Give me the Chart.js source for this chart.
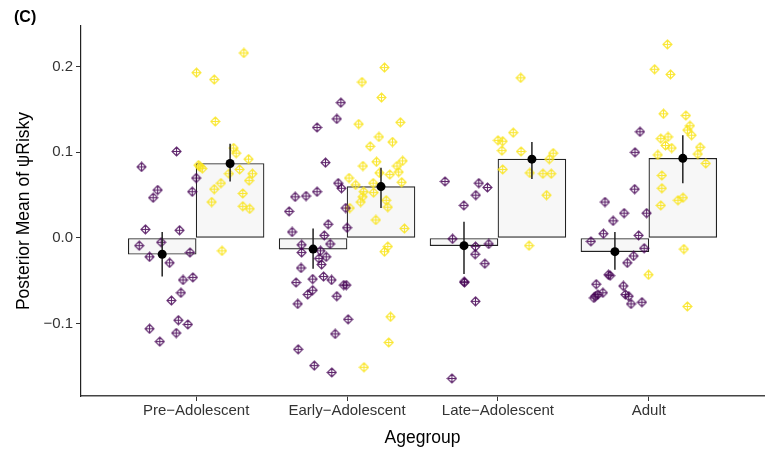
<!DOCTYPE html>
<html>
<head>
<meta charset="utf-8">
<script src="https://cdn.jsdelivr.net/npm/chart.js@4/dist/chart.umd.min.js"></script>
<style>
  body { margin: 0; background: #fff; }
  #wrap { width: 769px; height: 451px; }
</style>
</head>
<body>
<div id="wrap"><canvas id="myChart" width="769" height="451"></canvas></div>
<script>
// age groups on the x axis (positions 1..4)
const ageGroups = ["Pre−Adolescent", "Early−Adolescent", "Late−Adolescent", "Adult"];

// posterior means and intervals, purple condition (A) and yellow condition (B)
const meanA = [-0.019, -0.013, -0.009, -0.016];
const lowA = [-0.045, -0.036, -0.042, -0.037];
const highA = [0.007, 0.011, 0.019, 0.007];
const meanB = [0.087, 0.060, 0.092, 0.093];
const lowB = [0.066, 0.035, 0.069, 0.064];
const highB = [0.110, 0.082, 0.112, 0.120];

// individual estimates [x (jittered group position), y]
const pointsA = [
  // Pre-Adolescent
  [0.870, 0.101], [0.638, 0.083], [1.000, 0.070], [0.745, 0.056], [0.715, 0.047],
  [0.974, 0.054], [0.664, 0.010], [0.890, 0.009], [0.623, -0.009], [0.768, -0.005],
  [0.691, -0.022], [0.959, -0.017], [0.824, -0.029], [0.913, -0.049], [0.978, -0.046],
  [0.899, -0.064], [0.836, -0.073], [0.882, -0.096], [0.945, -0.101], [0.691, -0.106],
  [0.868, -0.111], [0.759, -0.121],
  // Early-Adolescent
  [1.959, 0.158], [1.932, 0.139], [1.801, 0.129], [1.857, 0.088], [1.941, 0.064],
  [1.963, 0.058], [1.801, 0.054], [1.656, 0.048], [1.728, 0.049], [1.616, 0.031],
  [1.991, 0.035], [1.875, 0.016], [2.000, 0.012], [1.636, 0.007], [1.849, 0.003],
  [1.699, -0.008], [1.888, -0.007], [1.699, -0.017], [1.824, -0.015], [1.814, -0.024],
  [1.862, -0.022], [1.831, -0.031], [1.695, -0.035], [1.772, -0.048], [1.844, -0.045],
  [1.897, -0.049], [1.662, -0.052], [1.978, -0.055], [1.995, -0.055], [1.772, -0.061],
  [1.739, -0.066], [1.932, -0.068], [1.673, -0.077], [2.007, -0.095], [1.921, -0.112],
  [1.676, -0.130], [1.783, -0.149], [1.899, -0.157],
  // Late-Adolescent
  [2.649, 0.066], [2.873, 0.064], [2.930, 0.059], [2.853, 0.050], [2.774, 0.038],
  [2.699, -0.001], [2.851, -0.010], [2.939, -0.007], [2.849, -0.019], [2.913, -0.030],
  [2.776, -0.051], [2.778, -0.052], [2.851, -0.074], [2.695, -0.164],
  // Adult
  [3.941, 0.124], [3.908, 0.100], [3.906, 0.057], [3.709, 0.042], [3.836, 0.029],
  [3.985, 0.029], [3.763, 0.020], [3.699, 0.005], [3.932, 0.003], [3.616, -0.004],
  [3.969, -0.012], [3.899, -0.021], [3.857, -0.029], [3.732, -0.043], [3.743, -0.044],
  [3.651, -0.054], [3.831, -0.056], [3.695, -0.064], [3.662, -0.066], [3.636, -0.070],
  [3.645, -0.068], [3.844, -0.066], [3.866, -0.068], [3.954, -0.075], [3.882, -0.077],
];

const pointsB = [
  // Pre-Adolescent
  [1.316, 0.216], [1.002, 0.193], [1.120, 0.185], [1.127, 0.136], [1.248, 0.105],
  [1.265, 0.099], [1.347, 0.092], [1.015, 0.085], [1.041, 0.081], [1.026, 0.083],
  [1.217, 0.075], [1.288, 0.080], [1.373, 0.075], [1.351, 0.067], [1.164, 0.064],
  [1.120, 0.057], [1.309, 0.052], [1.103, 0.042], [1.309, 0.037], [1.355, 0.034],
  [1.171, -0.015],
  // Early-Adolescent
  [2.248, 0.199], [2.099, 0.182], [2.228, 0.164], [2.077, 0.133], [2.353, 0.135],
  [2.211, 0.118], [2.301, 0.112], [2.153, 0.107], [2.195, 0.089], [2.105, 0.084],
  [2.368, 0.090], [2.331, 0.084], [2.342, 0.077], [2.283, 0.074], [2.215, 0.076],
  [2.013, 0.070], [2.173, 0.064], [2.362, 0.065], [2.057, 0.062], [2.110, 0.054],
  [2.176, 0.053], [2.103, 0.048], [2.090, 0.042], [2.259, 0.044], [2.270, 0.036],
  [2.018, 0.035], [2.191, 0.021], [2.380, 0.011], [2.270, -0.010], [2.248, -0.016],
  [2.288, -0.092], [2.276, -0.122], [2.112, -0.151],
  // Late-Adolescent
  [3.151, 0.187], [3.101, 0.123], [3.000, 0.114], [3.031, 0.113], [3.026, 0.102],
  [3.153, 0.101], [3.366, 0.099], [3.340, 0.092], [3.031, 0.080], [3.211, 0.076],
  [3.298, 0.075], [3.353, 0.075], [3.322, 0.050], [3.206, -0.009],
  // Adult
  [4.123, 0.226], [4.038, 0.197], [4.143, 0.191], [4.097, 0.145], [4.245, 0.143],
  [4.272, 0.131], [4.255, 0.126], [4.283, 0.120], [4.079, 0.116], [4.127, 0.118],
  [4.110, 0.108], [4.151, 0.105], [4.340, 0.106], [4.059, 0.097], [4.324, 0.098],
  [4.377, 0.087], [4.086, 0.073], [4.086, 0.058], [4.193, 0.044], [4.226, 0.047],
  [4.079, 0.038], [4.232, -0.013], [3.998, -0.043], [4.255, -0.080],
];

const colorA = "rgba(68, 1, 84, 0.85)";
const colorB = "rgba(250, 228, 30, 0.9)";
const dodge = 0.225; // half of the dodge width

// diamond with a plus inside
const makeMarker = color => {
  const c = document.createElement("canvas");
  c.width = 11;
  c.height = 11;
  const g = c.getContext("2d");
  g.strokeStyle = color;
  g.lineWidth = 1.1;
  g.beginPath();
  g.moveTo(5.5, 1);
  g.lineTo(10, 5.5);
  g.lineTo(5.5, 10);
  g.lineTo(1, 5.5);
  g.closePath();
  g.moveTo(5.5, 1);
  g.lineTo(5.5, 10);
  g.moveTo(1, 5.5);
  g.lineTo(10, 5.5);
  g.stroke();
  return c;
};

const barData = [];
const meanData = [];
const errorSets = [];
ageGroups.forEach((name, i) => {
  const xa = i + 1 - dodge;
  const xb = i + 1 + dodge;
  barData.push({ x: xa, y: meanA[i] }, { x: xb, y: meanB[i] });
  meanData.push({ x: xa, y: meanA[i] }, { x: xb, y: meanB[i] });
  errorSets.push([{ x: xa, y: lowA[i] }, { x: xa, y: highA[i] }]);
  errorSets.push([{ x: xb, y: lowB[i] }, { x: xb, y: highB[i] }]);
});

const toXY = arr => arr.map(p => ({ x: p[0], y: p[1] }));

Chart.defaults.font.family = "'Liberation Sans', Arial, sans-serif";
Chart.defaults.color = "#333";

// "(C)" panel tag
const panelTag = {
  id: "panelTag",
  afterDraw(chart) {
    const ctx = chart.ctx;
    ctx.save();
    ctx.font = "bold 16px 'Liberation Sans', Arial, sans-serif";
    ctx.fillStyle = "#000";
    ctx.textBaseline = "middle";
    ctx.fillText("(C)", 14, 18);
    ctx.restore();
  },
};

const ctx = document.getElementById("myChart").getContext("2d");
const myChart = new Chart(ctx, {
  type: "bar",
  data: {
    datasets: [
      {
        type: "scatter",
        data: meanData,
        pointRadius: 4.5,
        pointHoverRadius: 4.5,
        backgroundColor: "#000",
        borderWidth: 0,
        order: 0,
      },
      ...errorSets.map(d => ({
        type: "line",
        data: d,
        borderColor: "#222",
        borderWidth: 1.5,
        pointRadius: 0,
        order: 1,
      })),
      {
        type: "scatter",
        data: toXY(pointsA),
        pointStyle: makeMarker(colorA),
        order: 2,
      },
      {
        type: "scatter",
        data: toXY(pointsB),
        pointStyle: makeMarker(colorB),
        order: 2,
      },
      {
        type: "bar",
        data: barData,
        backgroundColor: "#f7f7f7",
        borderColor: "#222",
        borderWidth: 1.2,
        borderSkipped: false,
        barPercentage: 1,
        categoryPercentage: 1,
        order: 3,
      },
    ],
  },
  options: {
    responsive: false,
    animation: false,
    events: [],
    layout: { padding: { top: 26, left: 0, right: 0, bottom: 0 } },
    plugins: {
      legend: { display: false },
      tooltip: { enabled: false },
    },
    scales: {
      x: {
        type: "linear",
        min: 0.237,
        max: 4.763,
        offset: false,
        afterFit: scale => {
          scale.height = 55;
        },
        grid: { drawOnChartArea: false, offset: false, tickLength: 5, color: "#333", lineWidth: 1 },
        border: { color: "#444", width: 1.6 },
        ticks: {
          stepSize: 1,
          includeBounds: false,
          autoSkip: false,
          maxRotation: 0,
          padding: 1,
          font: { size: 15 },
          callback: v => ageGroups[Math.round(v) - 1],
        },
        title: {
          display: true,
          text: "Agegroup",
          color: "#000",
          font: { size: 17.5 },
          padding: { top: 0, bottom: 2.5 },
        },
      },
      y: {
        type: "linear",
        min: -0.1845,
        max: 0.2475,
        afterFit: scale => {
          scale.width = 81;
        },
        grid: { drawOnChartArea: false, tickLength: 5, color: "#333", lineWidth: 1 },
        border: { color: "#222", width: 1.2 },
        ticks: {
          stepSize: 0.1,
          includeBounds: false,
          padding: 3,
          font: { size: 15 },
          callback: v => v.toFixed(1).replace("-", "−"),
        },
        title: {
          display: true,
          text: "Posterior Mean of ψRisky",
          color: "#000",
          font: { size: 17.5 },
          padding: { top: 13.5, bottom: 0 },
        },
      },
    },
  },
  plugins: [panelTag],
});
</script>
</body>
</html>
